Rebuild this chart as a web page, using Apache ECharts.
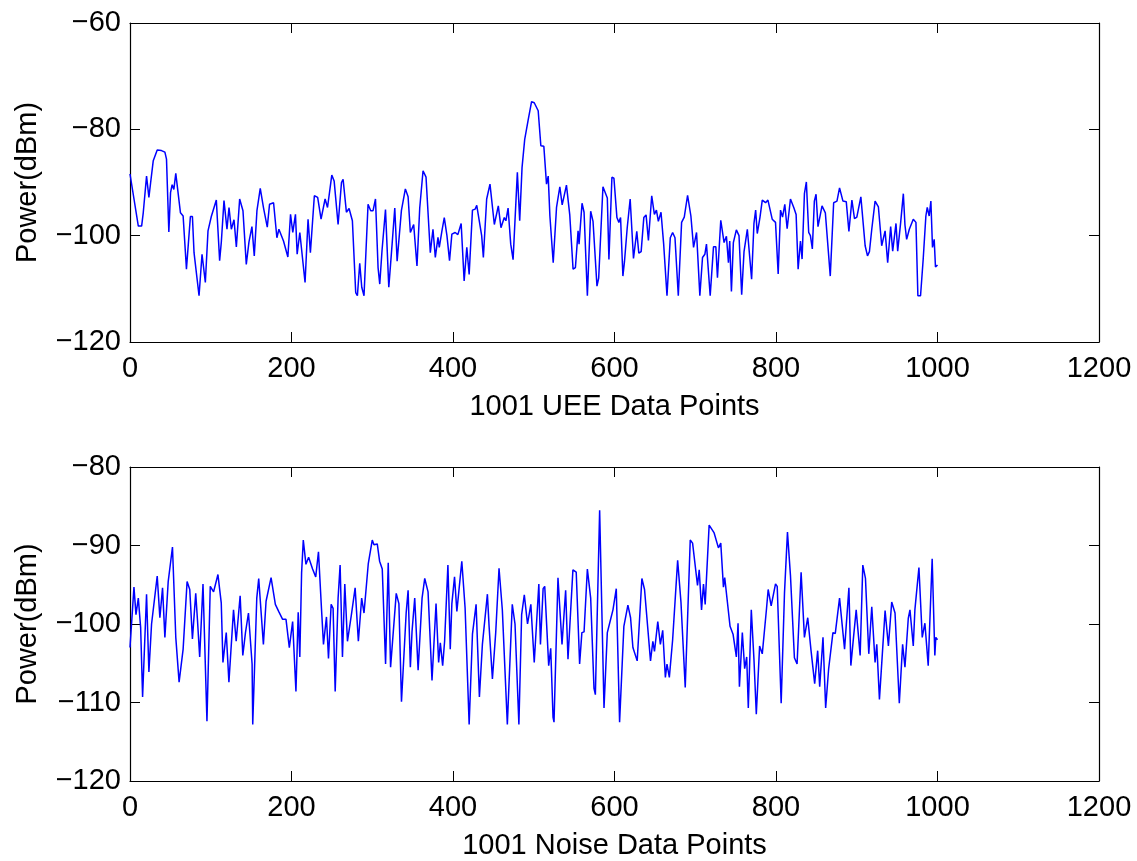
<!DOCTYPE html>
<html>
<head>
<meta charset="utf-8">
<script src="https://cdn.jsdelivr.net/npm/echarts@6/dist/echarts.min.js"></script>
<style>html,body{margin:0;padding:0;background:#fff}#c{width:1137px;height:861px}</style>
</head>
<body>
<div id="c"></div>
<script>
// ---- data ----
const ueeX = [0,2,10.3,14.4,16.4,18,20.5,23.4,25.5,28.8,33.7,39,43.2,45.2,48.1,50.2,52.2,54.3,56.7,62.5,65.8,69.9,74.8,77.3,79.3,81.4,85.5,89.2,93.3,96.6,100.7,106.9,111,113.1,116.4,120.1,122.6,125.5,128.8,131.7,135.8,139.9,144,147.3,151,153.9,157.2,161.3,165.4,170,172.8,177.8,181.9,184.4,190.1,195.5,198.8,201.6,204.9,207,210.3,216.8,220.5,223.4,228.3,232.4,236.6,241.6,244.6,249.9,252.8,257.7,261.9,263.9,268,271.3,275.4,279.5,281.6,284.5,287,289.8,294.8,298.1,301,304,307.2,309.3,312.1,316.4,320.5,324.6,327.9,330.8,336.1,341,344.4,347.2,351.3,355.4,358.8,362.9,366.6,371.9,375.2,378.1,381.4,383,386.3,389.2,392.5,395.7,398.6,402.7,406,410.1,413.8,417.1,420,424.1,427.5,429.4,435.5,437.6,441.7,445.8,451.2,456.1,459.4,463.5,465.5,468.2,471.5,474.4,479.7,482.6,485.5,488.8,493,497.3,500.6,505.5,508.8,512.5,515.8,517.9,520,524.1,528.2,532.3,535.2,540.5,544.6,548.7,551.6,554.9,556.1,559.8,562.3,566.4,570.5,573.4,578.3,580.4,585.7,587.8,591.1,593.1,596.8,599.3,603,605.4,607.5,610.4,612.4,615.7,619.4,623.5,627.6,630.1,633,636.3,639.1,642,646.1,649.4,651.9,654.3,657.6,660.9,665,669.1,672,674.9,679,683.1,686.4,690.5,694.6,697.9,701.6,705.7,709,711.9,713.9,718.5,722.6,725.5,727.5,731.6,735.7,738.6,741.1,742.7,744.8,747.2,750.9,754.2,757.5,760.4,764.5,769.8,772.7,774.8,776.8,780.1,783,787.1,790,795.3,799.4,802.7,805.6,808.1,810.9,813.8,817.9,822,824.9,827.4,830.3,832.3,835.2,837.6,840.5,842.6,845,847.5,849.6,852,857,861.1,867.2,871.4,875.5,878.7,882.9,887,890.3,894,897.2,900.1,905.1,910.4,913.3,915.7,918.6,922.7,926.8,930.9,935.1,938.3,942,944.5,948.6,950.7,954.4,957.7,959.7,961.8,965.1,970,973.3,975.7,979,982.3,985.6,987.3,989.7,991.8,993.8,995.9,997.5,1000];
const ueeY = [-88.4,-88.1,-98.2,-98.2,-95.7,-96,-88.8,-92.8,-90.1,-85.9,-83.9,-84,-84.3,-85.6,-99.3,-91.9,-90.4,-91.3,-88.3,-95.7,-96.3,-106.3,-96.4,-96.4,-103.2,-103.5,-111.3,-103.5,-108.8,-99.1,-96.4,-93.3,-104.7,-101.2,-93.4,-98.8,-94.7,-98.8,-97.0,-102.1,-93.1,-95.3,-105.4,-101.2,-98.3,-103.8,-95.3,-91.1,-94.8,-98.4,-94.1,-93.8,-100.4,-98.8,-101,-104,-96,-99.4,-96,-103.5,-99.4,-108.8,-96.9,-103.2,-92.5,-92.8,-96.9,-93.1,-94.7,-88.6,-89.7,-97.9,-90,-89.4,-95.6,-94.9,-97.2,-110.7,-111.3,-105.2,-109.7,-111.3,-94.1,-95.3,-95.3,-93.1,-106,-109.1,-102.8,-95.1,-109.7,-101.6,-94.8,-104.8,-95.3,-91.2,-92.7,-99.4,-97.9,-105.7,-94.8,-87.8,-89,-103.2,-98.8,-104.1,-100.3,-102.2,-99.1,-96.6,-100,-104.7,-99.7,-99.4,-99.8,-97.7,-108.5,-102.2,-107.3,-95.2,-95,-94.3,-100,-104.1,-93.1,-90.3,-97.9,-94.4,-98.5,-96.6,-97.2,-94.8,-101.6,-104.5,-88.1,-97.2,-87.2,-81.9,-78.3,-74.8,-75,-76.5,-83.1,-83.2,-90.3,-88.8,-96.3,-105.1,-94.7,-90.8,-94.2,-90.5,-96.1,-106.3,-106,-99.1,-101.6,-93.9,-95.6,-111.3,-95.4,-97.3,-109.5,-108,-90.8,-90.6,-92.9,-104.5,-89,-89.2,-96.6,-97.5,-96.6,-107.6,-104.8,-98.6,-93.1,-104.3,-99.2,-103.3,-103,-96.6,-96.1,-100.9,-92.5,-96,-95.2,-97.3,-95.6,-101.6,-111.3,-100.4,-99.4,-100.4,-111.3,-97.5,-96.5,-92.4,-96.3,-102.2,-99.4,-111.3,-104.1,-103.5,-101.6,-111.3,-102.1,-102.1,-107.9,-97.1,-101.3,-100.1,-105.1,-101,-110.5,-101.3,-98.9,-100,-111.1,-103,-98.8,-108.2,-97.7,-95.2,-99.6,-96.6,-93.3,-93.8,-93.3,-96.9,-97.5,-107.2,-95.2,-96.5,-94.1,-98.7,-93.1,-94.7,-96,-106.3,-101,-104.4,-92.1,-89.9,-99.4,-100,-102.5,-93.5,-92.2,-98.3,-94.4,-95.7,-107.6,-93.8,-93.5,-91,-93.5,-93.6,-99.2,-93.3,-96.8,-96.5,-92.7,-101.9,-103.8,-103,-98.8,-93.5,-94.6,-101.9,-99.1,-105.1,-98.3,-102.9,-97.7,-102.9,-97.5,-92.1,-98,-100.7,-98.8,-96.9,-97.5,-111.3,-111.3,-104.4,-96.3,-94.7,-96.3,-93.5,-102.2,-100.7,-105.9,-105.5];

const noiseX = [0,0.8,4.9,7.4,10.3,13.2,15.6,20.5,23.4,26.7,28.8,33.7,37,40.3,43.2,47.3,50.2,52.6,56.7,60.8,65.8,70.7,74,77.3,81.4,83.5,86.3,90.4,95.3,99.4,103.5,108.9,113,115.1,119.2,122.5,128.2,131.5,136.4,139.7,143,146.7,151.2,152,157,159.4,165.2,168.5,174.7,180,184.1,189,193.2,197.3,201.4,205.5,208.3,210.3,212.5,214.6,217.9,221.2,226.1,230,233.4,237.1,239.6,243.3,245.8,249.1,251.5,254.1,257.7,260.2,263.1,266,269.3,274.2,278.8,282.8,286.9,289.8,295.1,300,302.1,306.2,309.1,312.4,316.5,319.8,322.7,329.7,333,336.2,342,344.4,347.2,349.3,352.6,356.8,361.7,365,369.1,374,379,382.2,384.3,387.2,389.6,393.7,396.6,398.6,401.9,404.8,410.9,415,420,424.1,428.6,432.7,436.4,442.6,444.7,448.8,452.9,457,461.1,467.3,473.4,476.8,481.6,485,488.3,492.3,496.4,499.3,500.6,506.3,508.3,511.6,513.6,518.5,521,523.9,525.1,530,535,539.5,542.4,548.5,552.6,556.8,559.6,562.3,566.4,570.5,574.6,576.3,581.6,587,591.1,595.2,598.1,602.2,606.3,611.6,616.6,619.9,622.8,628.1,633.9,637.2,644.6,647.5,649.5,653.6,656.8,659.7,663,665,667.9,672,678.2,682.3,687.6,693.8,696.7,702.8,704.9,707.8,710.2,712.3,717.2,719.3,723.4,728.7,731.6,734.9,736.5,739.8,743.1,746.8,750.9,753,754.7,758.3,761.2,763.7,765.7,769.4,772.7,775.6,779.7,783,788.3,790.3,794,799.4,801.5,806.4,810.5,814.2,817.9,822.8,826.1,831.1,835.2,839.3,843.4,847.9,851.6,854.1,858.2,861.5,865.2,870.5,873.4,878.7,884.9,890.3,892.7,896,899.3,904.2,907.5,910.8,914.9,918.6,922.7,924.8,928.1,935.1,939.2,943.3,947.4,952.7,956.8,959.7,963.8,965.9,970,972,977,981.1,984.4,988.5,993.4,996.7,997.9,1000];
const noiseY = [-103,-102.8,-95.3,-98.8,-96.7,-100.5,-109.3,-96.2,-106.1,-100,-100.2,-93.9,-99.2,-95.4,-101.7,-94.6,-92.2,-90.2,-101.7,-107.4,-103.2,-94.6,-95.6,-101.9,-96.1,-99.4,-104.2,-94.9,-112.4,-95.2,-95.9,-93.7,-97.3,-104.9,-101.1,-107.4,-98.2,-102.2,-96.4,-104,-101.1,-98.6,-105.1,-112.8,-96.7,-94.2,-102.6,-97.1,-94.1,-97.5,-98.4,-99.4,-99.4,-103,-99.7,-108.6,-98.5,-104.2,-93.5,-89.3,-92.4,-91.5,-93,-94,-90.8,-98,-102.6,-99.1,-104.4,-97.5,-98,-108.6,-96.7,-92.5,-104.2,-94.9,-102.2,-98.8,-95.4,-102.2,-96.7,-98.6,-92.3,-89.3,-89.9,-89.8,-92,-93,-105.1,-92.2,-105.5,-96.1,-97.4,-109.9,-98.6,-95.7,-105.5,-100.9,-96.7,-105.9,-96.7,-94.2,-95.9,-107.2,-97.4,-104.9,-102.4,-105.3,-102.2,-92.5,-103.2,-97.4,-94,-98.4,-92,-98,-112.8,-101.3,-97.5,-109.3,-102.6,-96.2,-100.3,-107,-101.1,-92.9,-98.2,-112.8,-97.5,-100,-112.8,-98.8,-96.3,-100,-97.5,-102.6,-104.9,-94.9,-102.6,-95.5,-95.2,-105.3,-103.1,-111.9,-112.5,-94.1,-102.6,-95.7,-104.5,-93.1,-93.4,-105.1,-101.1,-101,-93,-96.7,-108.2,-109,-85.5,-110.7,-101.1,-99.4,-98.2,-95.5,-112.5,-100.3,-97.6,-99.2,-103,-104.7,-94.2,-95.6,-104.7,-102.2,-103.5,-99.7,-102.6,-100.8,-106.8,-105.1,-106.8,-102,-91.9,-97.2,-108.1,-89.3,-89.7,-95.1,-93.1,-98.2,-94.9,-97.5,-87.4,-87.2,-88.4,-90.3,-89.7,-95.3,-94.1,-97.2,-100.3,-101.3,-104.2,-99.9,-108,-101.1,-105.7,-104.2,-110.7,-98.2,-104.5,-111.5,-102.8,-103.8,-98,-95.6,-97.7,-94.9,-95.2,-110.1,-96.1,-88.3,-93.8,-104.3,-105.1,-93.4,-101.7,-99.2,-103.4,-107.6,-103.4,-108,-101.7,-110.7,-105.7,-101.1,-101.2,-96.7,-103.2,-95.4,-105.3,-101.7,-98.2,-104,-92.5,-94.2,-103.8,-97.8,-104.9,-102.6,-109.6,-98.3,-102.8,-97.2,-98.6,-110.1,-102.6,-105.5,-99.3,-98.2,-102.8,-98.2,-92.8,-101.7,-99.9,-105.3,-91.7,-104,-101.7,-102];

const xTicks = {min: 0, max: 1200, interval: 200};
const topYTicks = {min: -120, max: -60, interval: 20};
const botYTicks = {min: -120, max: -80, interval: 10};
const yLabel = 'Power(dBm)';
const topXLabel = '1001 UEE Data Points';
const botXLabel = '1001 Noise Data Points';

// ---- chart ----
const FONT = 'Liberation Sans, Arial, Helvetica, sans-serif';
const FS = 29;
const fmt = v => String(v).replace('-', '\u2212');
const zip = (xs, ys) => xs.map((x, i) => [x, ys[i]]);
const lineStyle = {color: '#000', width: 1.2};
const tickStyle = {show: true, inside: true, length: 10, lineStyle: {color: '#000', width: 1}};

function xAxes(gi, name) {
  return [
    {type: 'value', gridIndex: gi, position: 'bottom', min: xTicks.min, max: xTicks.max, interval: xTicks.interval,
     axisLine: {show: true, onZero: false, lineStyle}, axisTick: tickStyle, splitLine: {show: false},
     axisLabel: {show: true, margin: 12, color: '#000', fontSize: FS, fontFamily: FONT, formatter: fmt},
     name, nameLocation: 'middle', nameGap: 50, nameTextStyle: {color: '#000', fontSize: FS, fontFamily: FONT}},
    {type: 'value', gridIndex: gi, position: 'top', min: xTicks.min, max: xTicks.max, interval: xTicks.interval,
     axisLine: {show: true, onZero: false, lineStyle}, axisTick: tickStyle, splitLine: {show: false},
     axisLabel: {show: false}}
  ];
}
function yAxes(gi, t) {
  return [
    {type: 'value', gridIndex: gi, position: 'left', min: t.min, max: t.max, interval: t.interval,
     axisLine: {show: true, onZero: false, lineStyle}, axisTick: tickStyle, splitLine: {show: false},
     axisLabel: {show: true, margin: 9, color: '#000', fontSize: FS, fontFamily: FONT, formatter: fmt},
     name: yLabel, nameLocation: 'middle', nameGap: 88, nameTextStyle: {color: '#000', fontSize: FS, fontFamily: FONT}},
    {type: 'value', gridIndex: gi, position: 'right', min: t.min, max: t.max, interval: t.interval,
     axisLine: {show: true, onZero: false, lineStyle}, axisTick: tickStyle, splitLine: {show: false},
     axisLabel: {show: false}}
  ];
}

const chart = echarts.init(document.getElementById('c'), null, {renderer: 'canvas'});
chart.setOption({
  animation: false,
  backgroundColor: '#fff',
  grid: [
    {left: 130, top: 23, width: 969, height: 319},
    {left: 130, top: 467, width: 969, height: 320}
  ],
  xAxis: [...xAxes(0, topXLabel), ...xAxes(1, botXLabel)],
  yAxis: [...yAxes(0, topYTicks), ...yAxes(1, botYTicks)],
  series: [
    {type: 'line', xAxisIndex: 0, yAxisIndex: 0, data: zip(ueeX, ueeY), showSymbol: false,
     lineStyle: {color: '#0000ff', width: 1.5}, itemStyle: {color: '#0000ff'}},
    {type: 'line', xAxisIndex: 2, yAxisIndex: 2, data: zip(noiseX, noiseY), showSymbol: false,
     lineStyle: {color: '#0000ff', width: 1.5}, itemStyle: {color: '#0000ff'}}
  ]
});
</script>
</body>
</html>
